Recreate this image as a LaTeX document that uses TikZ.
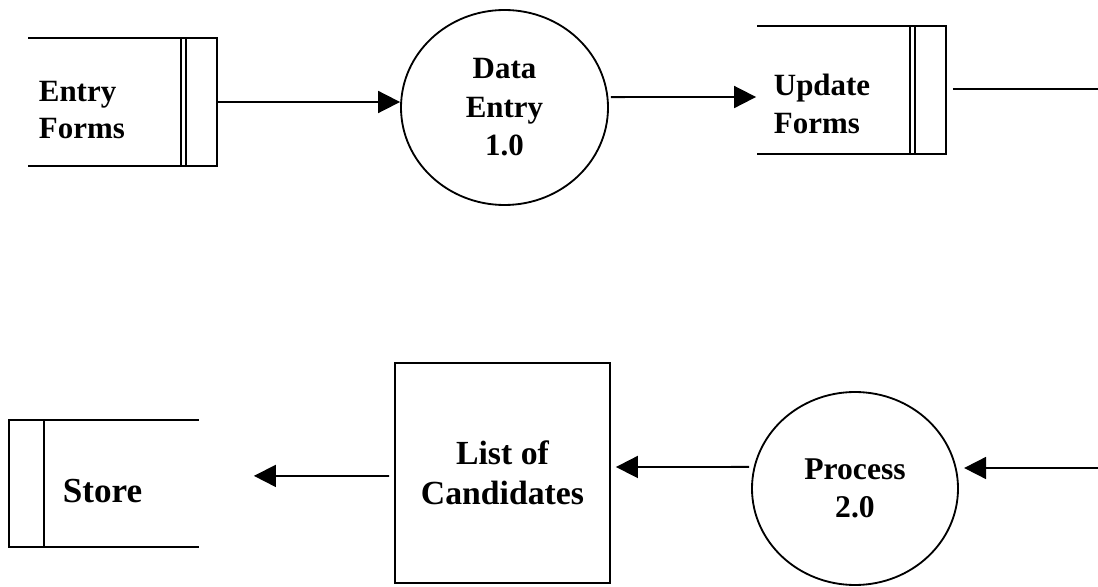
\documentclass[tikz,border=0pt]{standalone}
\usepackage{fontspec}
\setmainfont{Liberation Serif}
\usepackage{tikz}
\usetikzlibrary{shapes.geometric,arrows.meta}
\tikzstyle{datastore} = [rectangle, inner sep=0pt, minimum width=4.675cm, minimum height=3.15cm]
\tikzstyle{storetext} = [inner sep=0pt, anchor=west, align=left, font=\fontsize{22}{26.5}\selectfont\bfseries]
\tikzstyle{process} = [ellipse, draw, inner sep=0pt, minimum width=5.175cm, minimum height=4.875cm, align=center]
\tikzstyle{block} = [rectangle, draw, inner sep=0pt, minimum width=5.375cm, minimum height=5.5cm, align=center]
\tikzstyle{line} = [draw, -{Triangle[length=0.55cm, width=0.55cm]}]

\begin{document}
\begin{tikzpicture}[line width=1.3pt]
\useasboundingbox (0,0) rectangle (27.45,-14.675);
% top row
\node [datastore] (entry) at (3.0625,-2.55) {};
\draw (entry.north west) -- (entry.north east) -- (entry.south east) -- (entry.south west);
\draw ([xshift=-0.9cm]entry.north east) -- ([xshift=-0.9cm]entry.south east);
\draw ([xshift=-0.775cm]entry.north east) -- ([xshift=-0.775cm]entry.south east);
\node [storetext] (entry-txt) at (0.95,-2.75) {Entry\\Forms};
\node [process, font=\fontsize{22}{27.4}\selectfont\bfseries] (data-entry) at (12.6125,-2.6875) {Data\\Entry\\1.0};
\node [datastore] (update) at (21.2875,-2.25) {};
\draw (update.north west) -- (update.north east) -- (update.south east) -- (update.south west);
\draw ([xshift=-0.9cm]update.north east) -- ([xshift=-0.9cm]update.south east);
\draw ([xshift=-0.775cm]update.north east) -- ([xshift=-0.775cm]update.south east);
\node [storetext] (update-txt) at (19.325,-2.6) {Update\\Forms};
\coordinate (update-out) at (27.45,-2.225);
\path [line] (entry.east) -- (entry.east -| data-entry.west);
\path [line] ([xshift=0.05cm,yshift=0.26cm]data-entry.east) -- ([xshift=-0.025cm,yshift=-0.175cm]update.west);
\draw ([xshift=0.175cm,yshift=0.025cm]update.east) -- (update-out);
% bottom row
\node [datastore, minimum width=4.7cm, minimum height=3.125cm] (store) at (2.6,-12.0875) {};
\draw (store.north east) -- (store.north west) -- (store.south west) -- (store.south east);
\draw ([xshift=0.875cm]store.north west) -- ([xshift=0.875cm]store.south west);
\node [storetext, font=\fontsize{25}{30}\selectfont\bfseries] (store-txt) at (1.55,-12.275) {Store};
\node [block, font=\fontsize{24}{28.5}\selectfont\bfseries] (candidates) at (12.5625,-11.825) {List of\\Candidates};
\node [process, minimum width=5.15cm, minimum height=4.825cm, font=\fontsize{22.5}{27}\selectfont\bfseries] (proc) at (21.375,-12.2125) {Process\\2.0};
\coordinate (proc-in) at (27.45,-11.7);
\path [line] (proc-in) -- ([xshift=0.13cm]proc-in -| proc.east);
\path [line] ([xshift=-0.05cm,yshift=0.54cm]proc.west) -- ([xshift=0.125cm,yshift=0.15cm]candidates.east);
\path [line] ([xshift=-0.125cm,yshift=-0.075cm]candidates.west) -- ([xshift=1.375cm,yshift=0.19cm]store.east);
\end{tikzpicture}
\end{document}
